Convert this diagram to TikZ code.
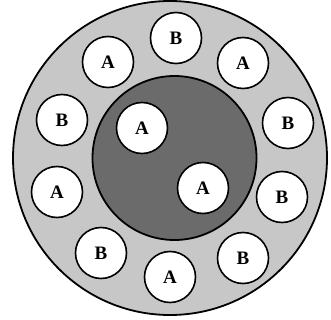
\documentclass[tikz,border=0pt]{standalone}
\usepackage{fontspec}
\setmainfont{Liberation Serif}
\begin{document}
\begin{tikzpicture}[x=1pt, y=-1pt,
    cell/.style={circle, draw=black, line width=1.6pt, fill=white,
        minimum size=51pt, inner sep=0pt, font=\fontsize{19}{22}\selectfont\bfseries}]
\useasboundingbox (0,0) rectangle (331,320);
\filldraw[fill=black!22, draw=black, line width=1.8pt] (170,158) circle [radius=157];
\filldraw[fill=black!58, draw=black, line width=1.8pt] (174.5,158) circle [radius=82];
% outer ring
\node[cell] (b1) at (176,38) {B};
\node[cell] (a1) at (243,63) {A};
\node[cell] (b2) at (288,123) {B};
\node[cell] (b3) at (282,197) {B};
\node[cell] (b4) at (243,258) {B};
\node[cell] (a2) at (170,277) {A};
\node[cell] (b5) at (101,253) {B};
\node[cell] (a3) at (57,192) {A};
\node[cell] (b6) at (62,120) {B};
\node[cell] (a4) at (108,62) {A};
% core
\node[cell] (c1) at (142,128) {A};
\node[cell] (c2) at (203,188) {A};
\end{tikzpicture}
\end{document}
